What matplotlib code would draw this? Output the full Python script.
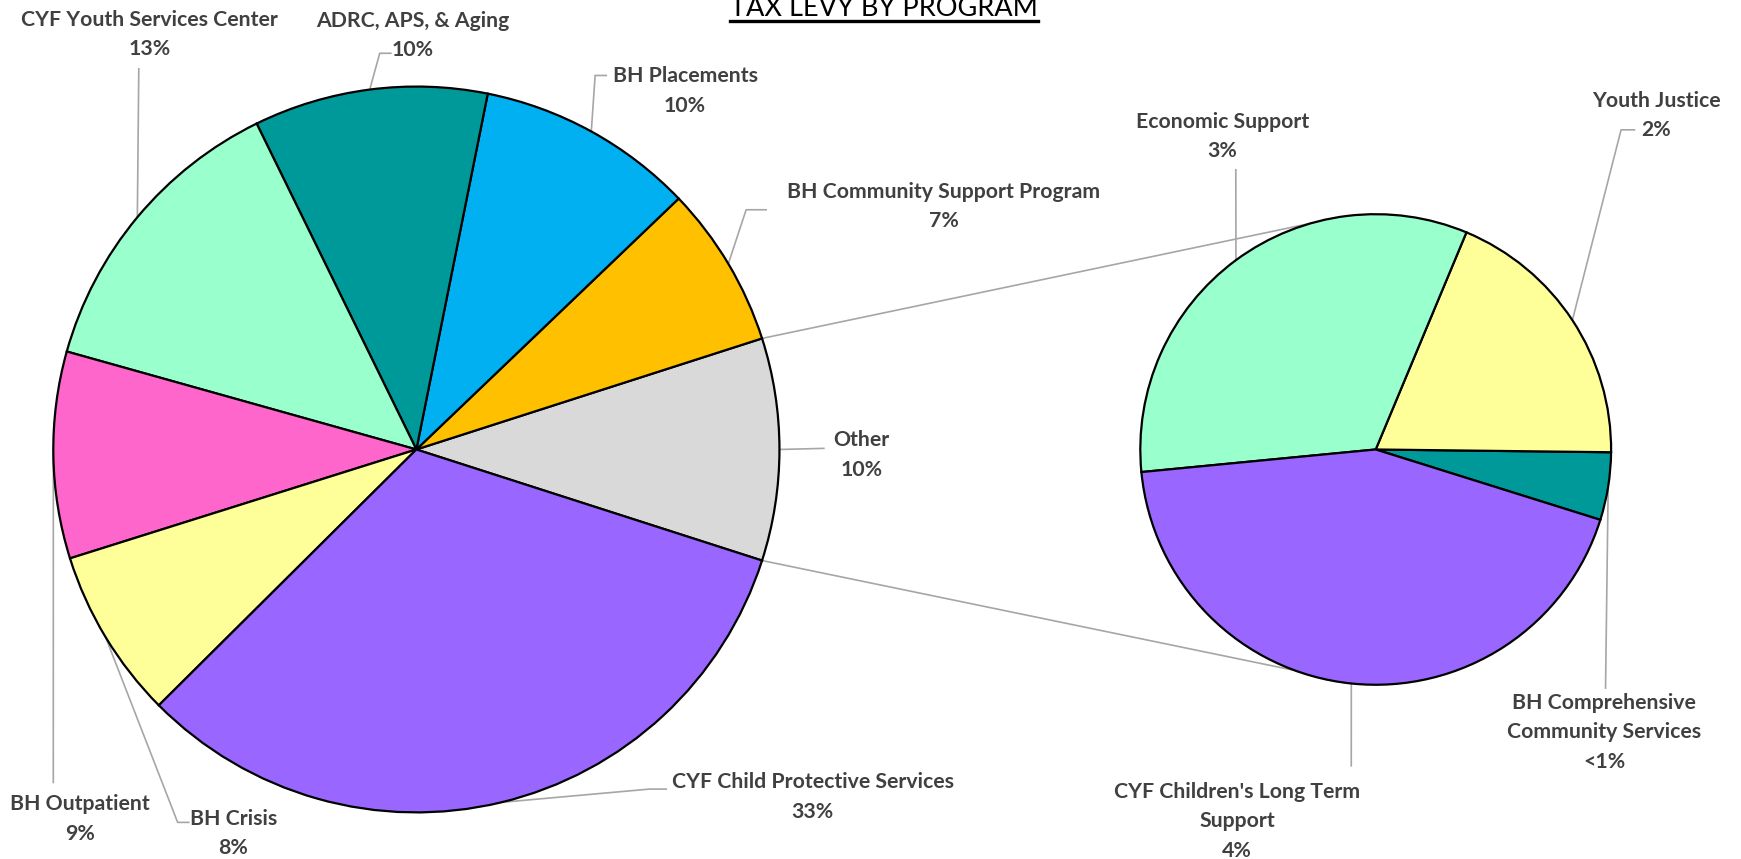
import numpy as np
import matplotlib.pyplot as plt

plt.rcParams['font.family'] = ['Lato', 'DejaVu Sans']

# breakdown of the "Other" slice (percent of total levy)
detail_programs = ['BH Comprehensive\nCommunity Services', 'Youth Justice',
                   'Economic Support', "CYF Children's Long Term\nSupport"]
detail_values = [0.46, 1.87, 3.25, 4.32]
detail_colors = ['#009999', '#ffff99', '#99ffcc', '#9966ff']

# main programs, counter-clockwise after "Other"
main_programs = ['BH Community Support Program', 'BH Placements',
                 'ADRC, APS, & Aging', 'CYF Youth Services Center',
                 'BH Outpatient', 'BH Crisis', 'CYF Child Protective Services']
main_values = [7.2, 9.7, 10.4, 13.4, 9.2, 7.6, 32.6]
main_colors = ['#ffc000', '#00b0f0', '#009999', '#99ffcc',
               '#ff66cc', '#ffff99', '#9966ff']

other_value = sum(detail_values)
labels1 = ['Other'] + main_programs
values1 = [other_value] + main_values
colors1 = ['#d9d9d9'] + main_colors

W, H = 1568, 774


def pt(x, y):
    # layout is worked out top-down, flip to axes coords
    return x, H - y


def pct(v):
    return '<1%' if v < 1 else '%.0f%%' % v


fig = plt.figure(figsize=(17.41, 8.59), dpi=100)
ax = fig.add_axes([0, 0, 1, 1])

c1, r1 = pt(375, 405), 327
c2, r2 = pt(1239, 405), 212
wp = dict(edgecolor='black', linewidth=1.6, zorder=3)

w1, _ = ax.pie(values1, colors=colors1, center=c1, radius=r1,
               startangle=-other_value * 3.6 / 2, counterclock=True,
               wedgeprops=wp)
w2, _ = ax.pie(detail_values, colors=detail_colors, center=c2, radius=r2,
               startangle=-17.4, counterclock=True, wedgeprops=wp)

gray = '#a6a6a6'
txt = '#404040'

# lines joining "Other" to the second pie
t_top = np.radians(w1[0].theta2)
t_bot = np.radians(w1[0].theta1)
for t1, t2 in [(t_top, np.radians(106)), (t_bot, np.radians(-110))]:
    ax.plot([c1[0] + r1 * np.cos(t1), c2[0] + r2 * np.cos(t2)],
            [c1[1] + r1 * np.sin(t1), c2[1] + r2 * np.sin(t2)],
            color=gray, lw=1.2, zorder=1)

# label block centre, then leader knee / tail
main_layout = [
    ((776, 410), [(742, 404)]),
    ((850, 186), [(672, 189), (690, 189)]),
    ((617, 82), [(536, 68), (546, 68)]),
    ((372, 32), [(342, 48), (352, 48)]),
    ((135, 31), [(125, 62)]),
    ((72, 738), [(48, 705)]),
    ((210, 751), [(160, 741), (170, 741)]),
    ((732, 718), [(585, 711), (600, 711)]),
]
detail_layout = [
    ((1445, 660), [(1446, 620)]),
    ((1492, 104), [(1460, 117), (1472, 117)]),
    ((1101, 123), [(1113, 153)]),
    ((1114, 740), [(1217, 690)]),
]


def label_wedges(wedges, names, vals, center, radius, layout):
    for w, name, v, (pos, path) in zip(wedges, names, vals, layout):
        th = np.radians((w.theta1 + w.theta2) / 2)
        xs = [center[0] + radius * np.cos(th)] + [pt(*p)[0] for p in path]
        ys = [center[1] + radius * np.sin(th)] + [pt(*p)[1] for p in path]
        ax.plot(xs, ys, color=gray, lw=1.2, zorder=1)
        ax.text(*pt(*pos), name + '\n' + pct(v), ha='center', va='center',
                fontsize=15.3, fontweight='bold', color=txt, linespacing=1.6)


label_wedges(w1, labels1, values1, c1, r1, main_layout)
label_wedges(w2, detail_programs, detail_values, c2, r2, detail_layout)

title = ax.text(*pt(796, 14), 'TAX LEVY BY PROGRAM', ha='center',
                va='baseline', fontsize=19.5, color='black')

ax.set_aspect('auto')
ax.set_xlim(0, W)
ax.set_ylim(0, H)
ax.axis('off')

# underline the title
fig.canvas.draw()
bb = title.get_window_extent().transformed(ax.transData.inverted())
ax.plot([bb.x0, bb.x1], [pt(0, 18.5)[1]] * 2, color='black', lw=2.4)

fig.savefig('out.png', dpi=100)
